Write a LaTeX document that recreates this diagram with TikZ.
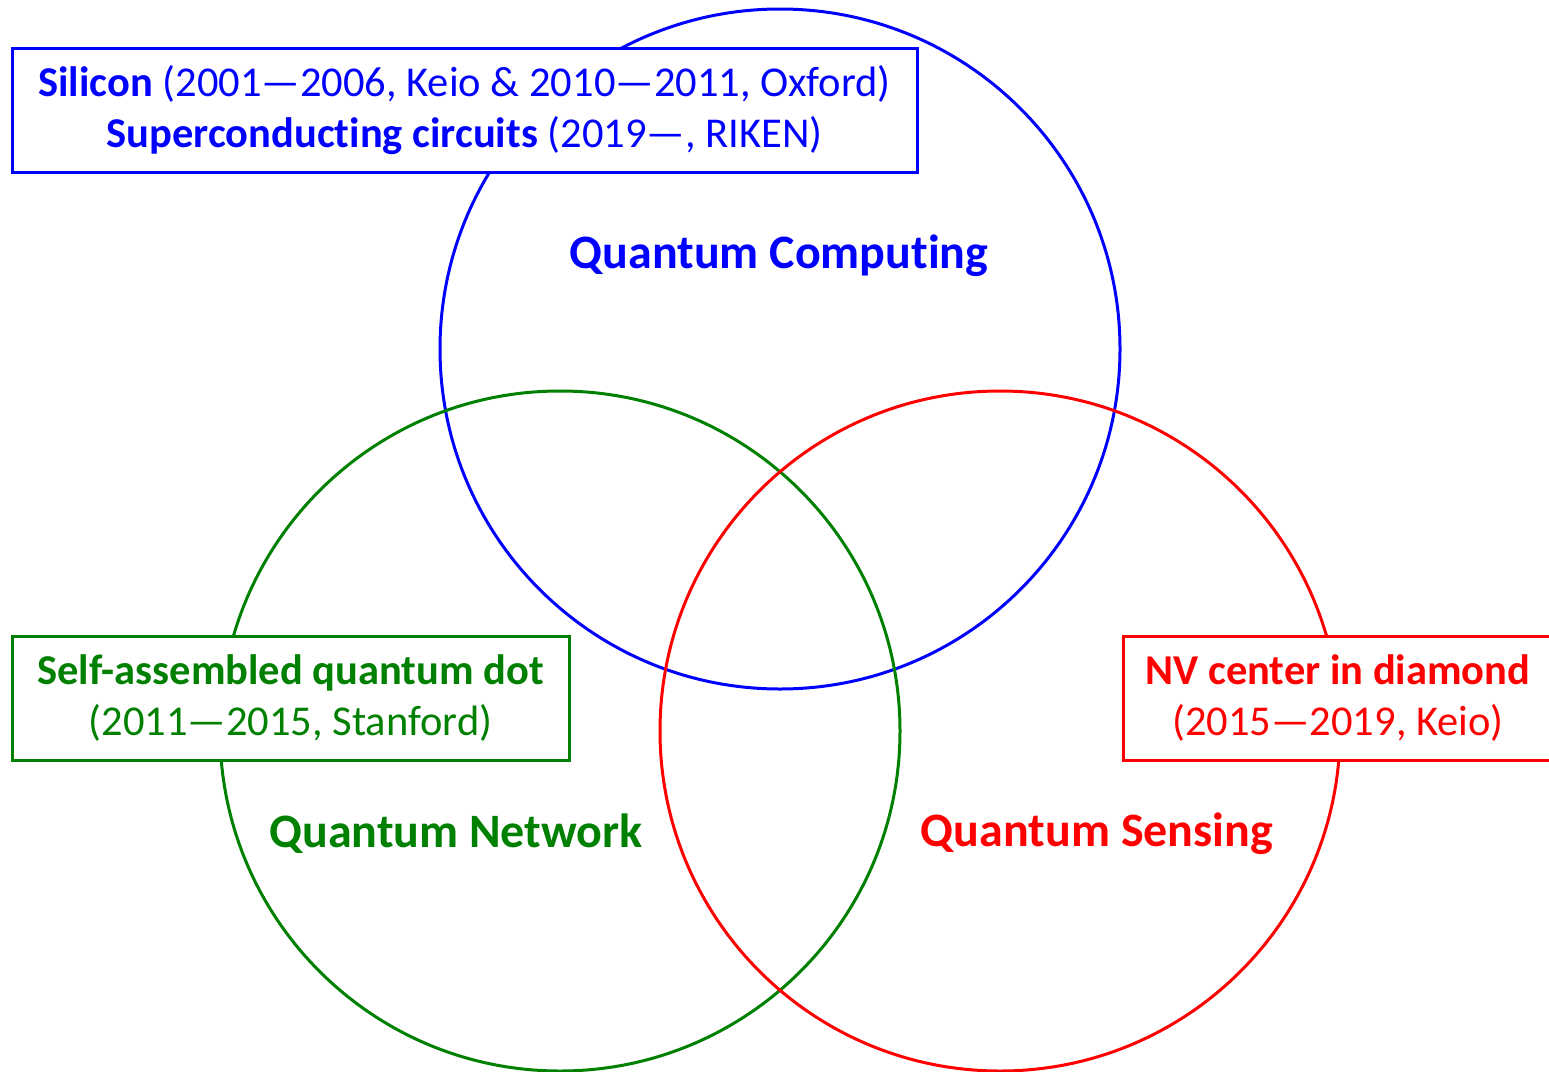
\documentclass[tikz,border=0pt]{standalone}
\usepackage{fontspec}
\setmainfont{Carlito}[Ligatures={NoCommon}]
\usepackage{tikz}
\usetikzlibrary{positioning}
\definecolor{qblue}{RGB}{0,0,255}
\definecolor{qgreen}{RGB}{0,128,0}
\definecolor{qred}{RGB}{255,0,0}
\tikzset{ring/.style={circle,draw,line width=3pt,minimum size=680pt,inner sep=0pt},
         tagbox/.style={draw,line width=3pt,fill=white,align=center,inner sep=0pt,
                        minimum height=124pt,font=\fontsize{42.5}{51}\selectfont}}
\begin{document}
\begin{tikzpicture}[x=1pt,y=-1pt,title/.style={font=\fontsize{48}{50}\selectfont\bfseries}]
                \useasboundingbox (0,0) rectangle (1549,1071);
                \node [ring,draw=qblue] (qc) at (780,349) {};
                \node [ring,draw=qgreen] (qn) at (560,731) {};
                \node [ring,draw=qred] (qs) at (1000,731) {};
                \node [title,text=qblue] (qclabel) at (779,256) {Quantum Computing};
                \node [title,text=qgreen] (qnlabel) at (456,834) {Quantum Network};
                \node [title,text=qred] (qslabel) at (1097,834) {Quantum Sensing};
                \node [tagbox,draw=qblue,text=qblue,minimum width=905pt] (si) at (464.5,110) {%
                    \textbf{Silicon} (2001—2006, Keio \& 2010—2011, Oxford)\\
                    \textbf{Superconducting circuits} (2019—, RIKEN)};
                \node [tagbox,draw=qgreen,text=qgreen,minimum width=557pt] (qd) at (290.5,698) {%
                    \textbf{Self-assembled quantum dot}\\(2011—2015, Stanford)};
                \node [tagbox,draw=qred,text=qred,minimum width=430pt] (nv) at (1338,698) {%
                    \textbf{NV center in diamond}\\(2015—2019, Keio)};
            \end{tikzpicture}
\end{document}
